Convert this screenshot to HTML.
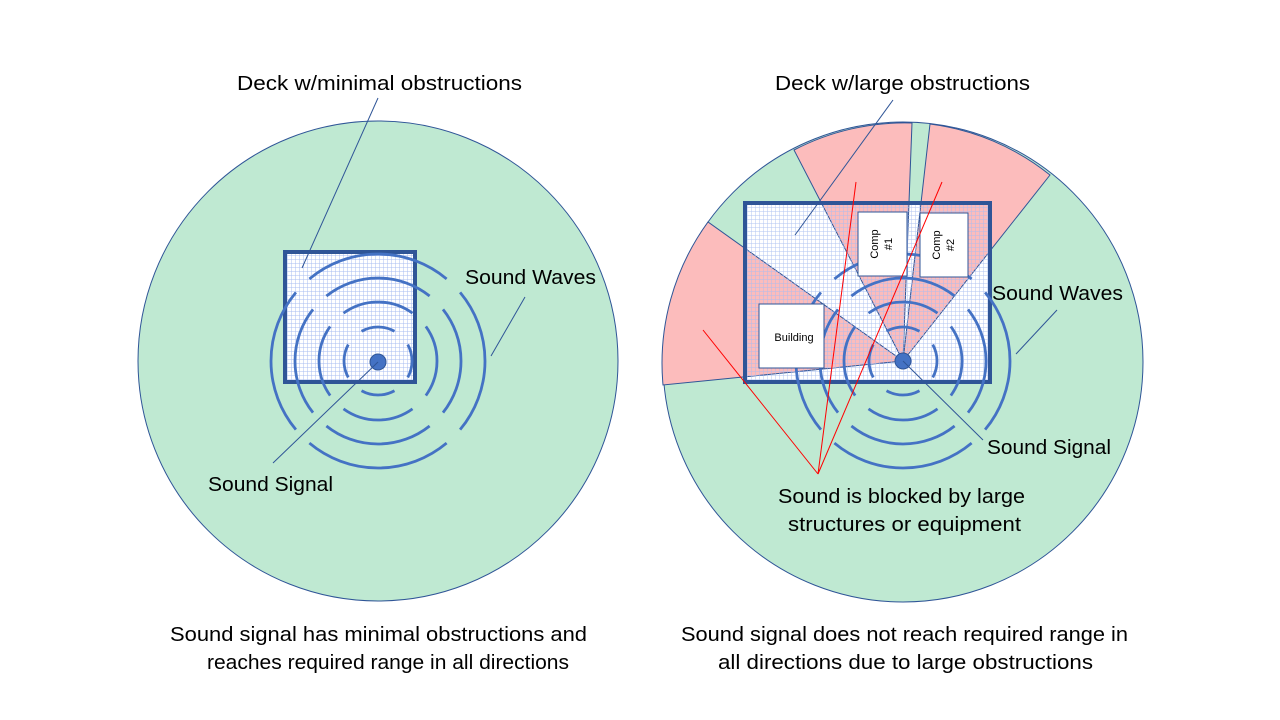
<!DOCTYPE html>
<html><head><meta charset="utf-8"><style>
html,body{margin:0;padding:0;background:#fff;}
svg{display:block;}
text{font-family:"Liberation Sans",sans-serif;font-size:20px;fill:#000;}
</style></head><body>
<svg width="1280" height="720" viewBox="0 0 1280 720" xmlns="http://www.w3.org/2000/svg">
<defs>
<pattern id="grid" width="4" height="4" patternUnits="userSpaceOnUse">
<path d="M4 0V4M0 4H4" stroke="#a9bdf0" stroke-width="1" fill="none"/>
</pattern>
<g id="arcs" fill="none" stroke="#4472c4" stroke-width="2.8">
<path d="M29.74,-16.48 A34 34 0 0 1 29.74,16.48 M16.48,29.74 A34 34 0 0 1 -16.48,29.74 M-29.74,16.48 A34 34 0 0 1 -29.74,-16.48 M-16.48,-29.74 A34 34 0 0 1 16.48,-29.74"/>
<path d="M47.85,-34.52 A59 59 0 0 1 47.85,34.52 M34.52,47.85 A59 59 0 0 1 -34.52,47.85 M-47.85,34.52 A59 59 0 0 1 -47.85,-34.52 M-34.52,-47.85 A59 59 0 0 1 34.52,-47.85"/>
<path d="M65,-51.62 A83 83 0 0 1 65,51.62 M51.62,65 A83 83 0 0 1 -51.62,65 M-65,51.62 A83 83 0 0 1 -65,-51.62 M-51.62,-65 A83 83 0 0 1 51.62,-65"/>
<path d="M82.09,-68.63 A107 107 0 0 1 82.09,68.63 M68.63,82.09 A107 107 0 0 1 -68.63,82.09 M-82.09,68.63 A107 107 0 0 1 -82.09,-68.63 M-68.63,-82.09 A107 107 0 0 1 68.63,-82.09"/>
</g>
</defs>

<!-- LEFT -->
<circle cx="378" cy="361" r="240" fill="#bfe9d2" stroke="#2f5597" stroke-width="1"/>
<rect x="285" y="252" width="130" height="130" fill="#fff"/>
<rect x="285" y="252" width="130" height="130" fill="url(#grid)"/>
<rect x="285" y="252" width="130" height="130" fill="none" stroke="#2f5597" stroke-width="4"/>
<use href="#arcs" x="378" y="361"/>
<circle cx="378" cy="362" r="8" fill="#4472c4" stroke="#2f5597" stroke-width="1"/>
<g stroke="#2f5597" stroke-width="1">
<line x1="378" y1="98" x2="302" y2="268"/>
<line x1="525" y1="297" x2="491" y2="356"/>
<line x1="378" y1="362" x2="273" y2="463"/>
</g>

<!-- RIGHT -->
<circle cx="903" cy="362" r="240" fill="#bfe9d2" stroke="#2f5597" stroke-width="1"/>
<rect x="745" y="203" width="245" height="179" fill="#fff"/>
<g fill="#fcbcbc" stroke="#2f5597" stroke-width="1">
<path d="M903 361 L663 385 A240 240 0 0 1 708 222 Z"/>
<path d="M903 361 L794 150 A240 240 0 0 1 912 123 Z"/>
<path d="M903 361 L930 124 A240 240 0 0 1 1050 175 Z"/>
</g>
<rect x="745" y="203" width="245" height="179" fill="url(#grid)" opacity="0.9"/>
<rect x="745" y="203" width="245" height="179" fill="none" stroke="#2f5597" stroke-width="4"/>
<use href="#arcs" x="903" y="361"/>
<g fill="#fff" stroke="#2f5597" stroke-width="1">
<rect x="858" y="212" width="49" height="64"/>
<rect x="920" y="213" width="48" height="64"/>
<rect x="759" y="304" width="65" height="64"/>
</g>
<text x="794" y="341" style="font-size:11px" text-anchor="middle">Building</text>
<text transform="translate(878,244) rotate(-90)" style="font-size:11px" text-anchor="middle">Comp</text>
<text transform="translate(892,244) rotate(-90)" style="font-size:11px" text-anchor="middle">#1</text>
<text transform="translate(940,245) rotate(-90)" style="font-size:11px" text-anchor="middle">Comp</text>
<text transform="translate(954,245) rotate(-90)" style="font-size:11px" text-anchor="middle">#2</text>
<circle cx="903" cy="361" r="8" fill="#4472c4" stroke="#2f5597" stroke-width="1"/>
<g stroke="#2f5597" stroke-width="1">
<line x1="893" y1="100" x2="795" y2="235"/>
<line x1="1057" y1="310" x2="1016" y2="354"/>
<line x1="903" y1="361" x2="983" y2="440"/>
</g>
<g stroke="#ff0000" stroke-width="1">
<line x1="818" y1="474" x2="703" y2="330"/>
<line x1="818" y1="474" x2="856" y2="182"/>
<line x1="818" y1="474" x2="942" y2="182"/>
</g>

<!-- TEXT -->
<text x="237" y="90" textLength="285" lengthAdjust="spacingAndGlyphs">Deck w/minimal obstructions</text>
<text x="465" y="284" textLength="131" lengthAdjust="spacingAndGlyphs">Sound Waves</text>
<text x="208" y="491" textLength="125" lengthAdjust="spacingAndGlyphs">Sound Signal</text>
<text x="775" y="90" textLength="255" lengthAdjust="spacingAndGlyphs">Deck w/large obstructions</text>
<text x="992" y="300" textLength="131" lengthAdjust="spacingAndGlyphs">Sound Waves</text>
<text x="987" y="454" textLength="124" lengthAdjust="spacingAndGlyphs">Sound Signal</text>
<text x="778" y="503" textLength="247" lengthAdjust="spacingAndGlyphs">Sound is blocked by large</text>
<text x="788" y="531" textLength="233" lengthAdjust="spacingAndGlyphs">structures or equipment</text>
<text x="170" y="641" textLength="417" lengthAdjust="spacingAndGlyphs">Sound signal has minimal obstructions and</text>
<text x="207" y="669" textLength="362" lengthAdjust="spacingAndGlyphs">reaches required range in all directions</text>
<text x="681" y="641" textLength="447" lengthAdjust="spacingAndGlyphs">Sound signal does not reach required range in</text>
<text x="718" y="669" textLength="375" lengthAdjust="spacingAndGlyphs">all directions due to large obstructions</text>
</svg>
</body></html>
